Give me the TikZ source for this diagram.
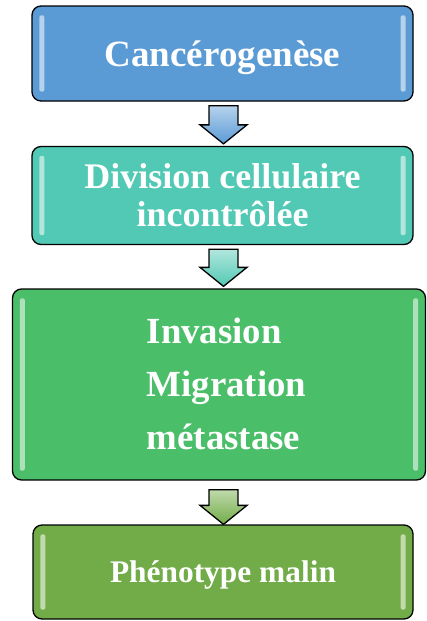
\documentclass[tikz,border=0pt]{standalone}
\usepackage{fontspec}
\setmainfont{Liberation Serif}
\usetikzlibrary{calc}
\definecolor{cBlue}{RGB}{91,155,213}
\definecolor{cTeal}{RGB}{82,201,180}
\definecolor{cGreen}{RGB}{74,190,104}
\definecolor{cOlive}{RGB}{114,172,72}
\newcommand\blockarrow[3]{%
  \draw[arrowbox, top color=#3!45!white, bottom color=#3] let \p1=(#1), \p2=(#2) in
   (\x1-14.5pt,\y1) -- (\x1+14.5pt,\y1) -- (\x1+14.5pt,\y2+19pt) -- (\x1+23.5pt,\y2+19pt)
   -- (\x1,\y2) -- (\x1-23.5pt,\y2+19pt) -- (\x1-14.5pt,\y2+19pt) -- cycle;}
\newcommand\glossbars[2]{%
  \fill[#2!35!white, opacity=0.85, rounded corners=2pt] ($(#1.north west)+(8,10)$) rectangle ($(#1.south west)+(13,-10)$);
  \fill[#2!35!white, opacity=0.85, rounded corners=2pt] ($(#1.north east)+(-13,10)$) rectangle ($(#1.south east)+(-8,-10)$);}
\begin{document}
\begin{tikzpicture}[x=1pt,y=-1pt,
  box/.style={draw=black, line width=1.3pt, rounded corners=9pt, inner sep=0pt,
    text=white, align=center},
  arrowbox/.style={draw=black, line width=1.3pt, line join=miter},
  lbl/.style={text=white, inner sep=0pt}]
\useasboundingbox (0,0) rectangle (427,621);
\node[box, fill=cBlue, minimum width=381, minimum height=95, text height=26.4pt, text depth=0pt,
  font=\bfseries\fontsize{37}{40}\selectfont] (b1) at (222.5,53.5) {Cancérogenèse};
\node[box, fill=cTeal, minimum width=381, minimum height=98,
  font=\bfseries\fontsize{36}{38.3}\selectfont] (b2) at (222.5,195.5)
  {Division cellulaire\\incontrôlée};
\node[box, fill=cGreen, minimum width=413, minimum height=191] (b3) at (219,384.5) {};
\node[lbl, align=left, font=\bfseries\fontsize{36.8}{53}\selectfont] (t3) at (226.5,384)
  {Invasion\\Migration\\métastase};
\node[box, fill=cOlive, minimum width=380, minimum height=94, text height=20.6pt, text depth=0pt,
  font=\bfseries\fontsize{31.4}{36}\selectfont] (b4) at (223,572) {Phénotype malin};
\glossbars{b1}{cBlue}
\glossbars{b2}{cTeal}
\glossbars{b3}{cGreen}
\glossbars{b4}{cOlive}
\coordinate (a1s) at ($(b1.south)+(1,4)$);
\coordinate (a1e) at ($(b2.north)+(1,-2)$);
\coordinate (a2s) at ($(b2.south)+(1,4)$);
\coordinate (a2e) at ($(b3.north)+(4.5,-2)$);
\coordinate (a3s) at ($(b3.south)+(4.5,9)$);
\coordinate (a3e) at ($(b4.north)+(0.5,0)$);
\blockarrow{a1s}{a1e}{cBlue}
\blockarrow{a2s}{a2e}{cTeal}
\blockarrow{a3s}{a3e}{cOlive}
\end{tikzpicture}
\end{document}
